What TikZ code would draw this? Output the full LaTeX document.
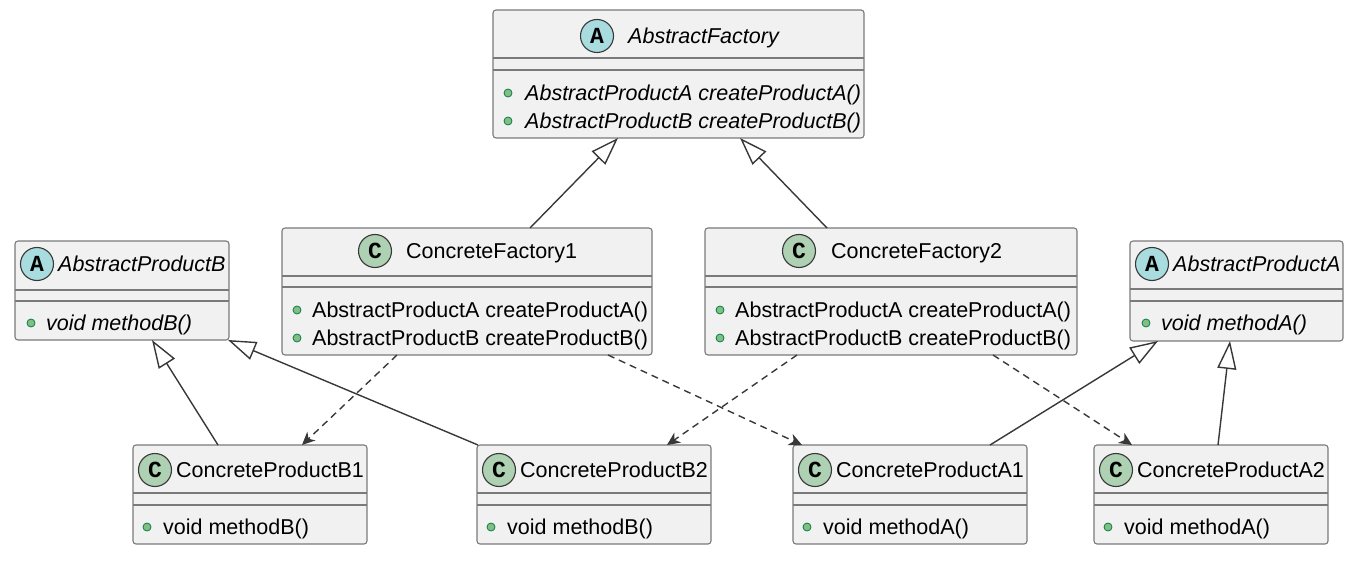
\documentclass[tikz,border=0pt]{standalone}
\usepackage{fontspec}
\setmainfont{Liberation Sans}
\newfontfamily\iconfont{Liberation Mono}
\usetikzlibrary{calc,arrows.meta}
\definecolor{boxfill}{HTML}{F1F1F1}
\definecolor{boxline}{HTML}{7A7A7A}
\definecolor{edgecol}{HTML}{383838}
\definecolor{absfill}{HTML}{A9DCDF}
\definecolor{clsfill}{HTML}{ADD1B2}
\definecolor{dotfill}{HTML}{84BE84}
\definecolor{dotline}{HTML}{038048}

\begin{document}
\begin{tikzpicture}[x=1pt,y=-1pt,
  box/.style={draw=boxline, fill=boxfill, line width=1.1pt, rounded corners=3pt, anchor=north west, inner sep=0pt, outer sep=0pt},
  txt/.style={anchor=west, inner sep=0pt, text height=15.4pt, text depth=0pt, font=\fontsize{21.5}{26}\selectfont},
  itxt/.style={txt, font=\fontsize{21.5}{26}\selectfont\itshape}]
\tikzstyle{icon}=[circle, draw=edgecol, line width=1.1pt, minimum size=33pt, inner sep=0pt, font=\iconfont\fontsize{23}{23}\selectfont\bfseries]
\tikzstyle{abs}=[icon, fill=absfill]
\tikzstyle{cls}=[icon, fill=clsfill]
\tikzstyle{dot}=[circle, draw=dotline, fill=dotfill, line width=0.8pt, minimum size=8pt, inner sep=0pt]
\tikzstyle{inh}=[draw=edgecol, line width=1.4pt, -{Triangle[length=28pt, width=19pt, fill=white]}]
\tikzstyle{dep}=[draw=edgecol, line width=1.4pt, dash pattern=on 7pt off 5pt, -{Stealth[length=13pt, width=12pt, inset=4pt]}]
\useasboundingbox (0,0) rectangle (1356,561);
% class boxes
\foreach \n/\x/\y/\w/\h in {af/493/10/371/128, cf1/282/228/370/127, cf2/705/228/372/127, apb/15/241/214/99, apa/1130/241/213/100, b1/133/445/234/99, b2/477/445/234/99, a1/793/445/234/99, a2/1094/445/234/99}{
  \node[box, minimum width=\w pt, minimum height=\h pt] (\n) at (\x,\y) {};
}
\foreach \n/\d/\e in {af/48/60, cf1/48/59, cf2/48/59, apb/49/60, apa/48/60, b1/48/60, b2/48/60, a1/48/60, a2/48/60}{
  \draw[boxline, line width=1.1pt] ($(\n.north west)+(0,\d)$) -- ($(\n.north east)+(0,\d)$);
  \draw[boxline, line width=1.1pt] ($(\n.north west)+(0,\e)$) -- ($(\n.north east)+(0,\e)$);
}
\node[abs] (af-i) at ($(af.north west)+(104,26)$) {A};
\node[itxt] (af-t) at ($(af.north west)+(135,26)$) {AbstractFactory};
\node[dot] (af-d1) at ($(af.north west)+(15,83)$) {};
\node[itxt] (af-m1) at ($(af.north west)+(32,83)$) {AbstractProductA createProductA()};
\node[dot] (af-d2) at ($(af.north west)+(15,111)$) {};
\node[itxt] (af-m2) at ($(af.north west)+(32,111)$) {AbstractProductB createProductB()};
\foreach \n/\ix/\tx/\lab in {cf1/93/124/ConcreteFactory1, cf2/94/126/ConcreteFactory2}{
  \node[cls] (\n-i) at ($(\n.north west)+(\ix,23)$) {C};
  \node[txt] (\n-t) at ($(\n.north west)+(\tx,23)$) {\lab};
  \node[dot] (\n-d1) at ($(\n.north west)+(15,82)$) {};
  \node[txt] (\n-m1) at ($(\n.north west)+(30,82)$) {AbstractProductA createProductA()};
  \node[dot] (\n-d2) at ($(\n.north west)+(15,110)$) {};
  \node[txt] (\n-m2) at ($(\n.north west)+(30,110)$) {AbstractProductB createProductB()};
}
\foreach \n/\lab/\mth in {apb/AbstractProductB/methodB, apa/AbstractProductA/methodA}{
  \node[abs] (\n-i) at ($(\n.north west)+(22,23)$) {A};
  \node[itxt] (\n-t) at ($(\n.north west)+(43,23)$) {\lab};
  \node[dot] (\n-d) at ($(\n.north west)+(16,82)$) {};
  \node[itxt] (\n-m) at ($(\n.north west)+(31,82)$) {void \mth()};
}
\foreach \n/\lab/\mth in {b1/ConcreteProductB1/methodB, b2/ConcreteProductB2/methodB, a1/ConcreteProductA1/methodA, a2/ConcreteProductA2/methodA}{
  \node[cls] (\n-i) at ($(\n.north west)+(22,25)$) {C};
  \node[txt] (\n-t) at ($(\n.north west)+(43,25)$) {\lab};
  \node[dot] (\n-d) at ($(\n.north west)+(14,82)$) {};
  \node[txt] (\n-m) at ($(\n.north west)+(30,82)$) {void \mth()};
}
% generalisation and dependency edges
\foreach \c/\dc/\p/\dp in {cf1/248/af/125, cf2/122/af/247, b1/85/apb/137, b2/1/apb/213, a1/197/apa/28, a2/124/apa/100}{
  \draw[inh] ($(\c.north west)+(\dc,0)$) -- ($(\p.south west)+(\dp,0)$);
}
\foreach \c/\dc/\p/\dp in {cf1/115/b1/169, cf1/326/a1/9, cf2/92/b2/190, cf2/288/a2/38}{
  \draw[dep] ($(\c.south west)+(\dc,0)$) -- ($(\p.north west)+(\dp,0)$);
}
\end{tikzpicture}
\end{document}
